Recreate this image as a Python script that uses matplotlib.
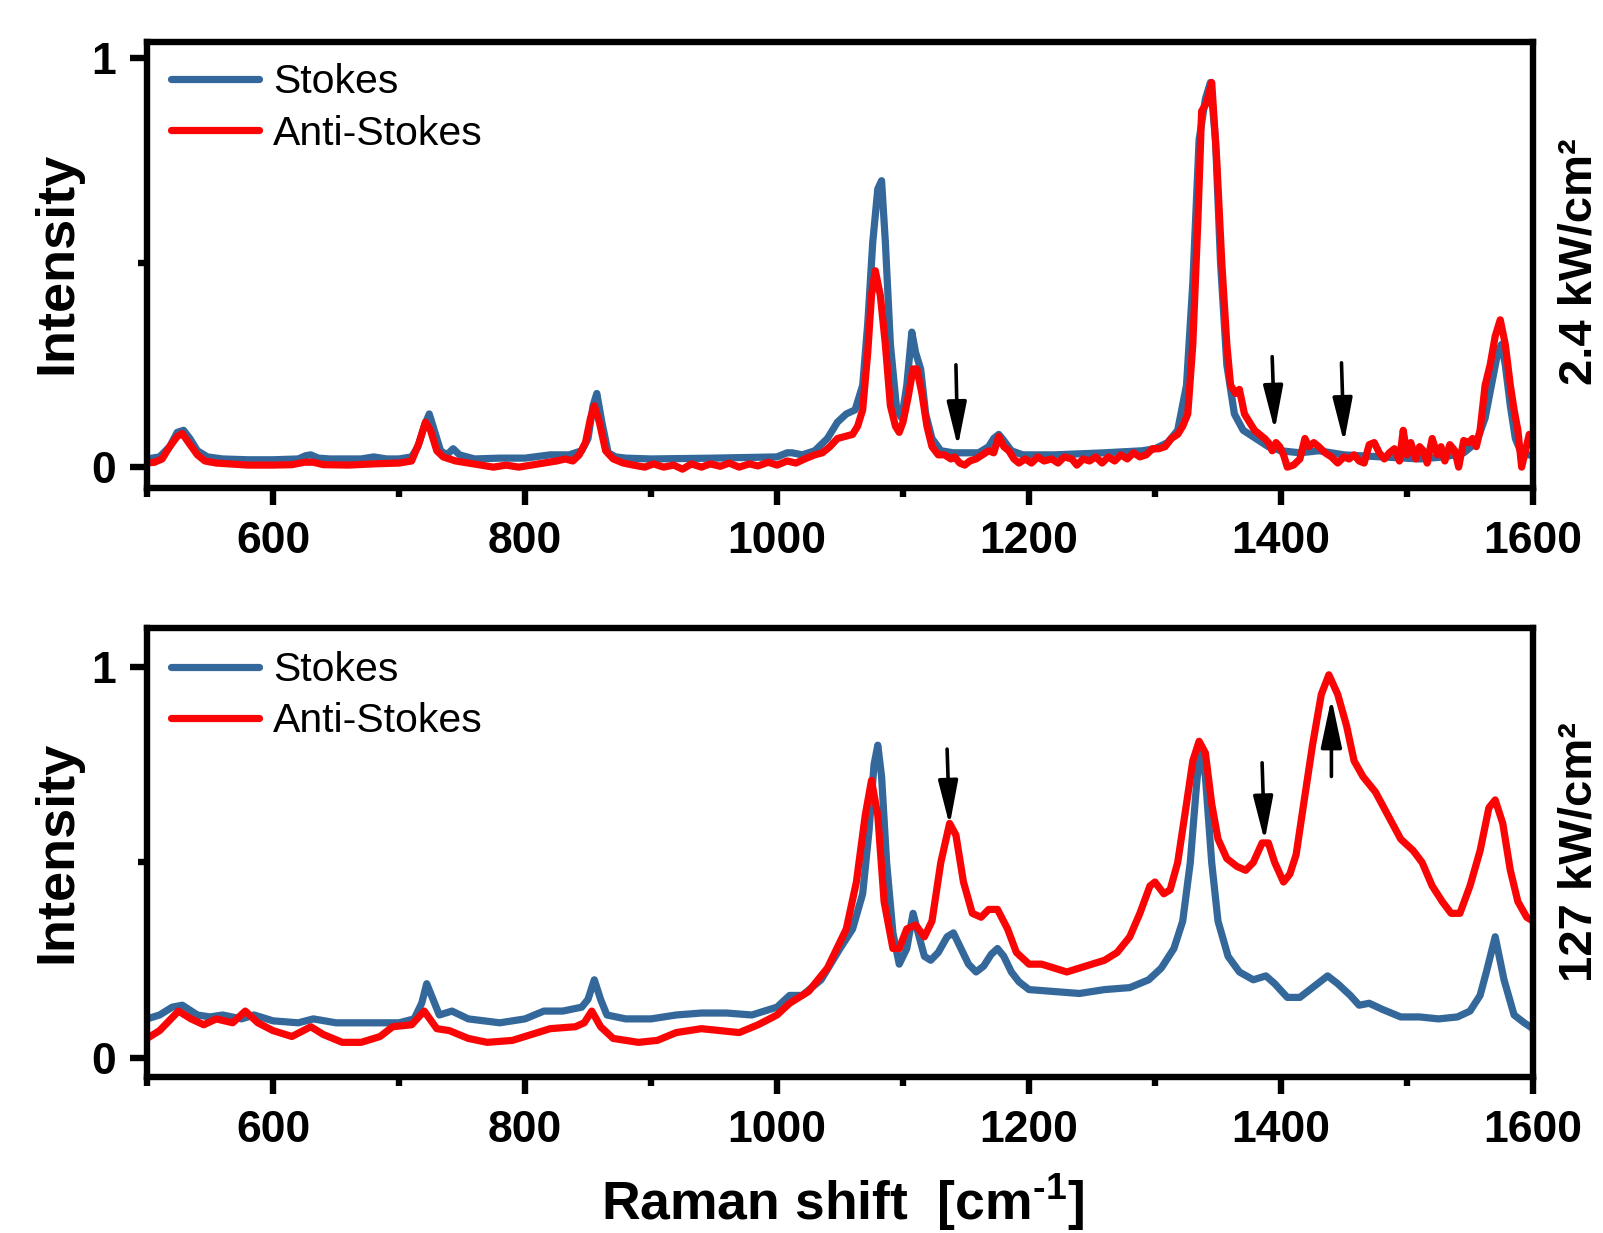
import numpy as np
import matplotlib
matplotlib.use("Agg")
import matplotlib.pyplot as plt

plt.rcParams["font.family"] = ["Liberation Sans", "DejaVu Sans"]
plt.rcParams["mathtext.fontset"] = "custom"
plt.rcParams["mathtext.rm"] = "Liberation Sans:bold"
plt.rcParams["mathtext.bf"] = "Liberation Sans:bold"
plt.rcParams["mathtext.default"] = "bf"

# ---------------- spectra: 2.4 kW/cm^2 ----------------
low_stokes_x = [500, 510, 518, 524, 529, 534, 540, 548, 560, 580, 600, 620, 626, 630, 636, 645,
                670, 680, 690, 700, 710, 715, 720, 724, 728, 733, 738, 743, 748, 760, 780, 800,
                820, 835, 845, 850, 854, 857, 861, 866, 872, 880, 900, 950, 1000, 1008, 1012,
                1020, 1030, 1040, 1048, 1055, 1062, 1068, 1072, 1076, 1080, 1083, 1086, 1090,
                1095, 1099, 1103, 1107, 1110, 1114, 1118, 1123, 1130, 1140, 1160, 1168, 1172,
                1176, 1180, 1186, 1195, 1220, 1260, 1290, 1300, 1310, 1318, 1325, 1330, 1335,
                1340, 1344, 1348, 1352, 1357, 1363, 1370, 1380, 1390, 1400, 1415, 1430, 1450,
                1480, 1510, 1530, 1545, 1555, 1562, 1567, 1572, 1575, 1578, 1582, 1586, 1590,
                1595, 1600]
low_stokes_y = [0.02, 0.025, 0.05, 0.085, 0.09, 0.07, 0.04, 0.025, 0.02, 0.018, 0.018, 0.02, 0.028,
                0.03, 0.022, 0.02, 0.02, 0.025, 0.02, 0.02, 0.025, 0.05, 0.10, 0.13, 0.09, 0.04,
                0.03, 0.045, 0.03, 0.02, 0.022, 0.022, 0.03, 0.03, 0.04, 0.07, 0.15, 0.18, 0.11,
                0.035, 0.025, 0.022, 0.02, 0.022, 0.025, 0.035, 0.035, 0.03, 0.04, 0.07, 0.11,
                0.13, 0.14, 0.20, 0.35, 0.55, 0.68, 0.70, 0.55, 0.30, 0.14, 0.12, 0.20, 0.33,
                0.28, 0.24, 0.13, 0.07, 0.04, 0.035, 0.035, 0.05, 0.07, 0.08, 0.065, 0.04, 0.03,
                0.03, 0.035, 0.04, 0.045, 0.06, 0.09, 0.20, 0.45, 0.80, 0.90, 0.94, 0.80, 0.50,
                0.25, 0.13, 0.09, 0.07, 0.05, 0.04, 0.035, 0.04, 0.03, 0.025, 0.02, 0.025, 0.035,
                0.06, 0.12, 0.20, 0.28, 0.30, 0.25, 0.15, 0.07, 0.04, 0.03, 0.03]

low_anti_x = [500, 506, 512, 518, 524, 528, 533, 540, 546, 555, 565, 580, 600, 615, 625, 632, 640,
              660, 680, 700, 710, 716, 721, 725, 730, 735, 745, 755, 765, 775, 785, 795, 805, 815,
              825, 832, 838, 843, 848, 852, 855, 859, 864, 870, 878, 886, 895, 902, 910, 918, 925,
              932, 940, 947, 955, 962, 970, 978, 985, 993, 1000, 1008, 1015, 1022, 1030, 1036,
              1042, 1048, 1054, 1060, 1064, 1068, 1072, 1075, 1078, 1082, 1086, 1090, 1094, 1097,
              1100, 1104, 1108, 1111, 1115, 1119, 1123, 1128, 1133, 1138, 1141, 1145, 1149, 1153,
              1158, 1163, 1168, 1172, 1176, 1180, 1184, 1188, 1192, 1197, 1202, 1207, 1212, 1218,
              1223, 1228, 1234, 1238, 1243, 1248, 1253, 1258, 1263, 1268, 1273, 1278, 1283, 1288,
              1293, 1298, 1303, 1308, 1313, 1318, 1322, 1326, 1330, 1334, 1337, 1341, 1345, 1349,
              1353, 1357, 1360, 1364, 1367, 1371, 1375, 1379, 1383, 1387, 1390, 1393, 1396, 1399,
              1402, 1405, 1410, 1415, 1419, 1422, 1426, 1430, 1435, 1440, 1445, 1450, 1454, 1458,
              1462, 1466, 1470, 1474, 1478, 1482, 1486, 1490, 1494, 1497, 1500, 1503, 1507, 1510,
              1513, 1516, 1520, 1524, 1527, 1530, 1534, 1538, 1541, 1545, 1549, 1552, 1555, 1558,
              1562, 1566, 1570, 1574, 1578, 1582, 1585, 1588, 1591, 1594, 1597, 1600]
low_anti_y = [0.01, 0.012, 0.02, 0.05, 0.075, 0.082, 0.06, 0.03, 0.015, 0.01, 0.008, 0.005, 0.005,
              0.006, 0.012, 0.012, 0.006, 0.005, 0.008, 0.01, 0.015, 0.06, 0.11, 0.09, 0.04, 0.025,
              0.015, 0.01, 0.005, 0.0, 0.005, 0.0, 0.005, 0.01, 0.015, 0.02, 0.015, 0.03, 0.06,
              0.12, 0.15, 0.11, 0.04, 0.02, 0.01, 0.005, 0.0, 0.008, 0.0, 0.005, -0.005, 0.008,
              0.0, 0.008, 0.002, 0.01, 0.0, 0.008, 0.003, 0.012, 0.005, 0.015, 0.01, 0.02, 0.03,
              0.035, 0.05, 0.07, 0.075, 0.08, 0.10, 0.14, 0.28, 0.42, 0.48, 0.42, 0.30, 0.15,
              0.10, 0.085, 0.11, 0.17, 0.24, 0.24, 0.18, 0.10, 0.05, 0.03, 0.03, 0.02, 0.025,
              0.01, 0.005, 0.015, 0.02, 0.03, 0.04, 0.035, 0.075, 0.05, 0.04, 0.02, 0.01, 0.02,
              0.01, 0.025, 0.015, 0.02, 0.01, 0.025, 0.02, 0.005, 0.02, 0.015, 0.025, 0.01,
              0.025, 0.015, 0.03, 0.02, 0.035, 0.025, 0.03, 0.045, 0.045, 0.05, 0.07, 0.08, 0.10,
              0.13, 0.30, 0.60, 0.87, 0.89, 0.94, 0.75, 0.50, 0.30, 0.20, 0.18, 0.19, 0.13, 0.11,
              0.09, 0.08, 0.07, 0.06, 0.04, 0.06, 0.05, 0.03, 0.0, 0.005, 0.02, 0.07, 0.05, 0.06,
              0.05, 0.035, 0.025, 0.01, 0.025, 0.02, 0.03, 0.015, 0.01, 0.055, 0.06, 0.035, 0.02,
              0.035, 0.045, 0.015, 0.09, 0.03, 0.06, 0.02, 0.05, 0.04, 0.01, 0.07, 0.03, 0.05,
              0.015, 0.055, 0.04, 0.0, 0.065, 0.06, 0.07, 0.05, 0.09, 0.20, 0.25, 0.32, 0.36, 0.30,
              0.20, 0.14, 0.09, 0.0, 0.04, 0.08, 0.075]

# ---------------- spectra: 127 kW/cm^2 ----------------
high_stokes_x = [500, 510, 520, 528, 540, 550, 560, 575, 585, 600, 620, 632, 650, 680, 700, 712,
                 718, 722, 727, 732, 742, 755, 780, 800, 815, 830, 845, 850, 855, 860, 865, 880,
                 900, 920, 940, 960, 980, 1000, 1010, 1020, 1035, 1050, 1060, 1068, 1073, 1077,
                 1080, 1083, 1087, 1092, 1097, 1103, 1108, 1112, 1117, 1122, 1128, 1135, 1140,
                 1146, 1152, 1158, 1164, 1170, 1175, 1180, 1186, 1192, 1200, 1220, 1240, 1260,
                 1280, 1295, 1305, 1315, 1322, 1328, 1333, 1336, 1340, 1345, 1350, 1358, 1367,
                 1378, 1388, 1395, 1405, 1415, 1425, 1437, 1445, 1455, 1462, 1470, 1480, 1495,
                 1510, 1525, 1540, 1550, 1558, 1563, 1570, 1577, 1585, 1593, 1600]
high_stokes_y = [0.10, 0.11, 0.13, 0.135, 0.11, 0.105, 0.11, 0.10, 0.11, 0.095, 0.09, 0.10, 0.09,
                 0.09, 0.09, 0.10, 0.14, 0.19, 0.15, 0.11, 0.12, 0.10, 0.09, 0.10, 0.12, 0.12,
                 0.13, 0.15, 0.20, 0.15, 0.11, 0.10, 0.10, 0.11, 0.115, 0.115, 0.11, 0.13, 0.16,
                 0.16, 0.20, 0.28, 0.33, 0.42, 0.58, 0.75, 0.80, 0.72, 0.50, 0.32, 0.24, 0.28,
                 0.37, 0.32, 0.26, 0.25, 0.27, 0.31, 0.32, 0.28, 0.24, 0.22, 0.235, 0.265, 0.28,
                 0.26, 0.22, 0.195, 0.175, 0.17, 0.165, 0.175, 0.18, 0.20, 0.23, 0.28, 0.35, 0.50,
                 0.70, 0.80, 0.72, 0.50, 0.35, 0.26, 0.22, 0.20, 0.21, 0.19, 0.155, 0.155, 0.18,
                 0.21, 0.19, 0.16, 0.135, 0.14, 0.125, 0.105, 0.105, 0.10, 0.105, 0.12, 0.16,
                 0.22, 0.31, 0.20, 0.11, 0.09, 0.075]

high_anti_x = [500, 510, 525, 535, 545, 555, 568, 578, 588, 600, 615, 630, 640, 655, 670, 685,
               695, 710, 720, 730, 740, 755, 770, 790, 805, 820, 840, 847, 853, 860, 870, 890,
               905, 920, 940, 955, 970, 985, 1000, 1010, 1025, 1040, 1055, 1063, 1070, 1075,
               1080, 1085, 1092, 1097, 1103, 1110, 1117, 1123, 1130, 1137, 1142, 1148, 1155,
               1162, 1168, 1175, 1183, 1190, 1200, 1210, 1220, 1230, 1240, 1250, 1260, 1270,
               1280, 1288, 1296, 1300, 1307, 1312, 1318, 1325, 1330, 1335, 1340, 1345, 1350,
               1357, 1365, 1372, 1378, 1385, 1390, 1395, 1402, 1407, 1412, 1418, 1425, 1432,
               1438, 1445, 1452, 1458, 1465, 1475, 1485, 1495, 1505, 1512, 1520, 1528, 1535,
               1542, 1550, 1558, 1565, 1570, 1576, 1582, 1588, 1595, 1600]
high_anti_y = [0.05, 0.07, 0.12, 0.10, 0.085, 0.10, 0.09, 0.12, 0.09, 0.07, 0.055, 0.08, 0.06,
               0.04, 0.04, 0.055, 0.08, 0.085, 0.12, 0.075, 0.07, 0.05, 0.04, 0.045, 0.06, 0.075,
               0.08, 0.09, 0.12, 0.08, 0.05, 0.04, 0.045, 0.065, 0.075, 0.07, 0.065, 0.085, 0.11,
               0.14, 0.17, 0.23, 0.33, 0.45, 0.62, 0.71, 0.62, 0.40, 0.28, 0.28, 0.33, 0.34, 0.31,
               0.35, 0.50, 0.60, 0.57, 0.45, 0.37, 0.36, 0.38, 0.38, 0.33, 0.27, 0.24, 0.24, 0.23,
               0.22, 0.23, 0.24, 0.25, 0.27, 0.31, 0.37, 0.44, 0.45, 0.42, 0.43, 0.50, 0.65, 0.76,
               0.81, 0.78, 0.65, 0.56, 0.51, 0.49, 0.48, 0.50, 0.55, 0.55, 0.50, 0.45, 0.47, 0.52,
               0.65, 0.80, 0.93, 0.98, 0.93, 0.85, 0.76, 0.72, 0.68, 0.62, 0.56, 0.53, 0.50, 0.44,
               0.40, 0.37, 0.37, 0.44, 0.53, 0.64, 0.66, 0.60, 0.48, 0.40, 0.36, 0.35]

series_labels = ["Stokes", "Anti-Stokes"]
power_labels = ["2.4 kW/cm²", "127 kW/cm²"]
x_major = [600, 800, 1000, 1200, 1400, 1600]
x_minor = [500, 700, 900, 1100, 1300, 1500]

# arrows marking anti-Stokes features: (x_tail, y_tail, x_tip, y_tip)
low_arrows = [(1142, 0.25, 1143.5, 0.05), (1393, 0.27, 1395, 0.09), (1448, 0.255, 1450, 0.06)]
high_arrows = [(1135, 0.79, 1137, 0.595), (1385, 0.755, 1387, 0.555)]
high_up_arrows = [(1440, 0.72, 1440, 0.92)]

BLUE = "#34689b"
RED = "#fa0505"

W, H = 1603, 1233
fig = plt.figure(figsize=(W / 100, H / 100), dpi=100)


def add_axes_px(left, top, right, bottom):
    return fig.add_axes([left / W, 1 - bottom / H, (right - left) / W, (bottom - top) / H])


def style(ax, ylim):
    ax.set_xlim(500, 1600)
    ax.set_ylim(*ylim)
    ax.set_xticks(x_major)
    ax.set_xticks(x_minor, minor=True)
    ax.set_yticks([0, 1])
    ax.set_yticklabels(["0", "1"])
    ax.set_yticks([0.5], minor=True)
    for s in ax.spines.values():
        s.set_linewidth(4.6)
    ax.tick_params(which="major", direction="out", length=12.5, width=4.6, labelsize=32)
    ax.tick_params(which="minor", direction="out", length=6.5, width=4.6)
    ax.tick_params(axis="x", which="major", pad=11)
    ax.tick_params(axis="y", which="major", pad=10)
    for lab in ax.get_xticklabels() + ax.get_yticklabels():
        lab.set_fontweight("bold")


def draw_arrow(ax, tail, tip, head_len, head_w):
    ax.annotate("", xy=tip, xytext=tail,
                arrowprops=dict(arrowstyle=f"-|>,head_length={head_len},head_width={head_w}",
                                lw=2.6, color="black", mutation_scale=20,
                                shrinkA=0, shrinkB=0), zorder=5)


panels = [
    (add_axes_px(147, 42, 1533, 488), (-0.051, 1.039), low_stokes_x, low_stokes_y,
     low_anti_x, low_anti_y, 0.952),
    (add_axes_px(147, 628, 1533, 1077), (-0.0486, 1.0997), high_stokes_x, high_stokes_y,
     high_anti_x, high_anti_y, 0.948),
]

for ax, ylim, sx, sy, ax_x, ax_y, leg_y in panels:
    style(ax, ylim)
    l1, = ax.plot(sx, sy, color=BLUE, lw=5.2, solid_joinstyle="round", solid_capstyle="round")
    l2, = ax.plot(ax_x, ax_y, color=RED, lw=5.2, solid_joinstyle="round", solid_capstyle="round")
    ax.legend([l1, l2], series_labels, loc="upper left", bbox_to_anchor=(0.017, leg_y),
              frameon=False, fontsize=29.5, handlelength=2.15, handletextpad=0.35,
              labelspacing=0.32, borderaxespad=0, borderpad=0)

ax_top, ax_bot = panels[0][0], panels[1][0]
for t in low_arrows:
    draw_arrow(ax_top, t[:2], t[2:], 1.35, 0.3)
for t in high_arrows:
    draw_arrow(ax_bot, t[:2], t[2:], 1.35, 0.3)
for t in high_up_arrows:
    draw_arrow(ax_bot, t[:2], t[2:], 1.5, 0.32)

# axis titles
for yc in (263, 852):
    fig.text(71 / W, 1 - yc / H, "Intensity", rotation=90, rotation_mode="anchor",
             ha="center", va="baseline", fontsize=39, fontweight="bold")
for yc, lab in zip((262, 852), power_labels):
    fig.text(1592 / W, 1 - yc / H, lab, rotation=90, rotation_mode="anchor",
             ha="center", va="baseline", fontsize=34, fontweight="bold")
fig.text(842 / W, 1 - 1220 / H, r"Raman shift  [cm$^{\text{-1}}$]", ha="center",
         va="baseline", fontsize=38.5, fontweight="bold")

fig.savefig("out.png", dpi=100)
